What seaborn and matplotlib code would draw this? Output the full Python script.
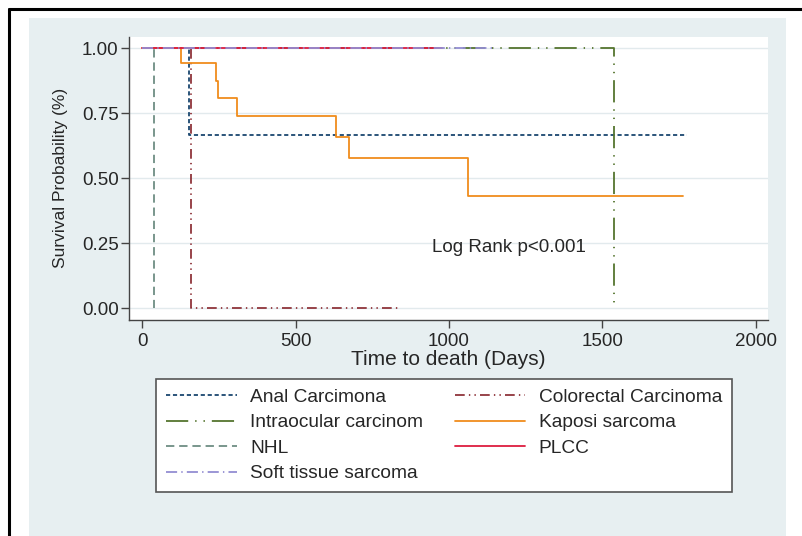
import matplotlib
matplotlib.use("Agg")
import matplotlib.pyplot as plt
from matplotlib.lines import Line2D
import seaborn as sns

# Kaplan-Meier step data (days, survival probability)
groups = ["Anal Carcimona", "Colorectal Carcinoma", "Intraocular carcinom",
          "Kaposi sarcoma", "NHL", "PLCC", "Soft tissue sarcoma"]
anal_t = [0, 152, 1776]
anal_s = [1.0, 0.667, 0.667]
colorectal_t = [0, 159, 840]
colorectal_s = [1.0, 0.0, 0.0]
intraocular_t = [0, 1539]
intraocular_s = [1.0, 0.0]
kaposi_t = [0, 126, 240, 247, 309, 632, 674, 1062, 1763]
kaposi_s = [1.0, 0.944, 0.874, 0.808, 0.741, 0.660, 0.577, 0.433, 0.433]
nhl_t = [0, 38]
nhl_s = [1.0, 0.0]
plcc_t = [0, 977]
plcc_s = [1.0, 1.0]
soft_t = [0, 1140]
soft_s = [1.0, 1.0]

x_ticks = [0, 500, 1000, 1500, 2000]
y_ticks = [0.00, 0.25, 0.50, 0.75, 1.00]
y_ticklabels = ["0.00", "0.25", "0.50", "0.75", "1.00"]

series = [
    (anal_t, anal_s, "#1a476f", (0, (3, 2))),
    (colorectal_t, colorectal_s, "#90353b", (0, (7, 3, 1, 3, 1, 3))),
    (intraocular_t, intraocular_s, "#55752f", (0, (16, 5, 1, 5, 1, 5))),
    (kaposi_t, kaposi_s, "#f08c1c", "-"),
    (nhl_t, nhl_s, "#6e8e84", (0, (6, 3.5))),
    (plcc_t, plcc_s, "#dd1c3f", "-"),
    (soft_t, soft_s, "#938dd2", (0, (8, 3, 1, 3))),
]

sns.set_style("white")
plt.rcParams["font.family"] = ["Liberation Sans", "DejaVu Sans"]
plt.rcParams["lines.scale_dashes"] = False

W, H = 802, 536
fig = plt.figure(figsize=(W / 100, H / 100), dpi=100)
fig.patch.set_facecolor("white")

# outer frame (black on left/top) and bluish graph region
fig.add_artist(plt.Rectangle((29 / W, 0), (786 - 29) / W, (H - 18) / H,
                             transform=fig.transFigure, facecolor="#e7eff1",
                             edgecolor="none", zorder=0))
fig.add_artist(Line2D([9 / W, 9 / W], [0, (H - 9) / H], transform=fig.transFigure,
                      color="black", lw=2.2))
fig.add_artist(Line2D([9 / W, 1], [(H - 9) / H, (H - 9) / H], transform=fig.transFigure,
                      color="black", lw=2.2))

ax = fig.add_axes([129 / W, (H - 320) / H, (768 - 129) / W, (320 - 36.5) / H])
ax.set_facecolor("white")

handles = []
for (t, s, col, ls), name in zip(series, groups):
    sns.lineplot(x=t, y=s, ax=ax, drawstyle="steps-post", color=col,
                 linestyle=ls, linewidth=1.3, estimator=None, sort=False)
    handles.append(Line2D([], [], color=col, linestyle=ls, linewidth=1.3))

ax.set_xlim(-43.4, 2040)
ax.set_ylim(-0.045, 1.045)
ax.set_xticks(x_ticks)
ax.set_yticks(y_ticks)
ax.set_yticklabels(y_ticklabels)
ax.grid(axis="y", color="#e2eaed", linewidth=1.0)
ax.set_axisbelow(True)
for side in ["top", "right"]:
    ax.spines[side].set_visible(False)
for side in ["left", "bottom"]:
    ax.spines[side].set_color("#444444")
    ax.spines[side].set_linewidth(1.0)
ax.tick_params(axis="both", direction="out", length=5.5, width=1.0,
               color="#444444", labelsize=13.5, left=True, bottom=True)
ax.tick_params(axis="y", pad=2)
ax.tick_params(axis="x", pad=4)

ax.set_xlabel("Time to death (Days)", fontsize=15, labelpad=0)
ax.set_ylabel("Survival Probability (%)", fontsize=12.5, labelpad=10)

ax.text(945, 0.215, "Log Rank p<0.001", fontsize=13.5, ha="left", va="baseline")

# Stata-style legend: rows filled left to right
order = [0, 2, 4, 6, 1, 3, 5]
leg = fig.legend([handles[i] for i in order], [groups[i] for i in order],
                 loc="upper left", bbox_to_anchor=(156 / W, (H - 379) / H),
                 ncol=2, fontsize=13.8, frameon=True, fancybox=False,
                 framealpha=1, handlelength=3.7, handletextpad=0.7,
                 columnspacing=1.65, labelspacing=0.42, borderpad=0.5,
                 borderaxespad=0)
leg.get_frame().set_edgecolor("#555555")
leg.get_frame().set_linewidth(1.2)
leg.get_frame().set_facecolor("white")

fig.savefig("out.png", dpi=100, facecolor=fig.get_facecolor())
